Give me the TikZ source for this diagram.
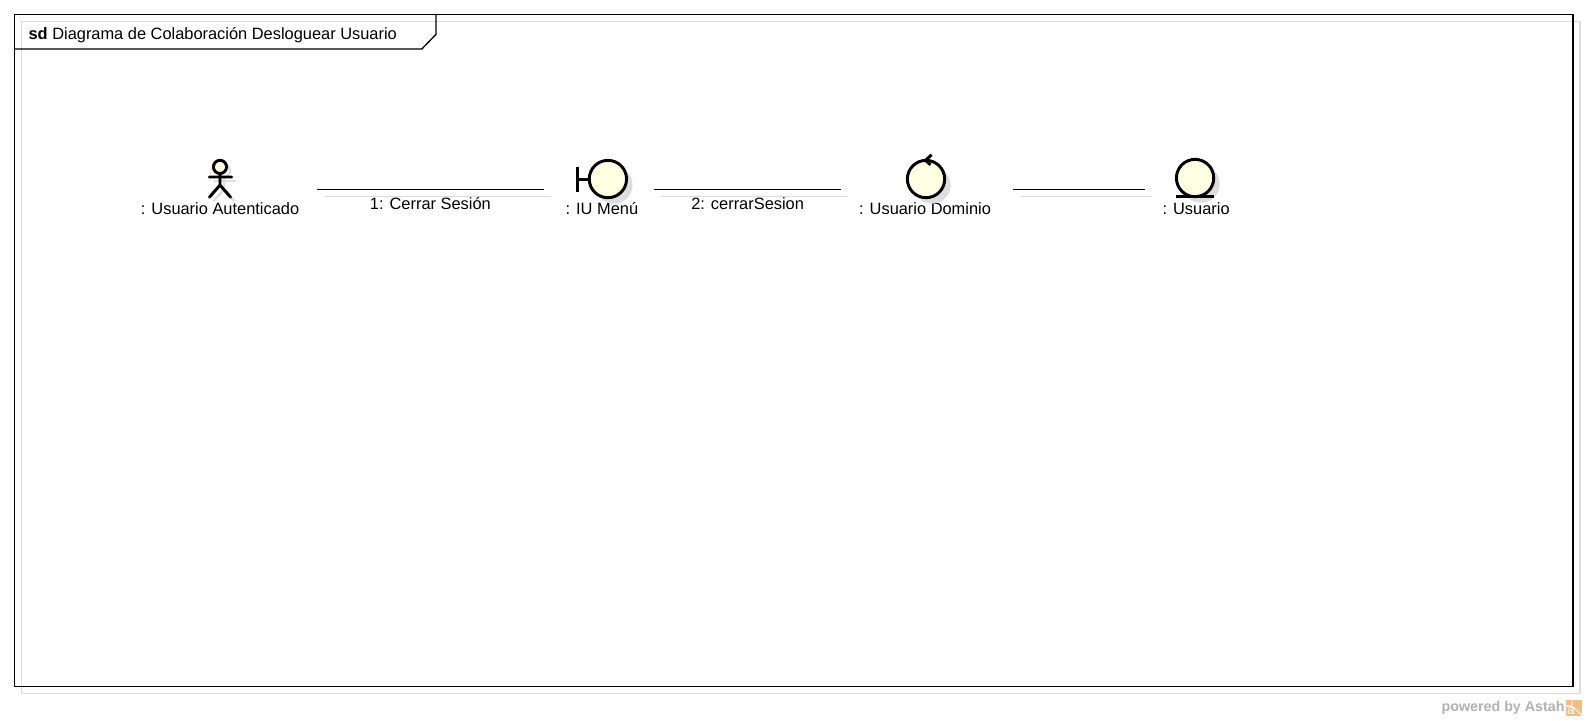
\documentclass[tikz,border=0pt]{standalone}
\usepackage{fontspec}
\setmainfont{Liberation Sans}
\usetikzlibrary{shadows}
\definecolor{shadowgray}{HTML}{DDDDDD}
\definecolor{robustfill}{HTML}{FFFFE3}
\definecolor{logoorange}{HTML}{F6BC84}
\tikzset{every node/.style={align=center}, font=\fontsize{12.3pt}{14pt}\selectfont,
  framebox/.style={line width=1pt},
  frameshadow/.style={draw=shadowgray, line width=0.9pt},
  icon/.style={line width=2.2pt, line cap=round},
  robust/.style={circle, draw, line width=2.2pt, fill=robustfill, minimum size=28pt, inner sep=0pt,
    drop shadow={shadow xshift=4.5pt, shadow yshift=-4.5pt, fill=shadowgray, opacity=1}},
  objname/.style={inner sep=0pt, outer xsep=13.5pt, text height=9pt, text depth=3pt},
  linkname/.style={below=3.5pt, text height=9pt, text depth=3pt, inner ysep=2pt},
  assoc/.style={line width=1pt, preaction={draw=shadowgray, line width=0.8pt, transform canvas={shift={(5.3pt,-5.3pt)}}}}}

\begin{document}
\begin{tikzpicture}[x=0.7586pt, y=-0.7586pt]
  \useasboundingbox (0,0) rectangle (1568,712);
  % frame
  \draw[frameshadow] (21.5,21.5) rectangle (1562,686);
  \draw[framebox] (14.5,14.5) rectangle (1555,679);
  \draw[framebox] (14.5,48.5) -- (417,48.5) -- (431,34) -- (431,14.5);
  \node (title) [anchor=west, inner sep=0pt] at (28,34.5) {\textbf{sd} Diagrama de Colaboración Desloguear Usuario};

  % objects
  \node [objname] (actor) at (217.5,208) {: Usuario Autenticado};
  \node [objname] (menu) at (595,208) {: IU Menú};
  \node [objname] (ctrl) at (914.5,208) {: Usuario Dominio};
  \node [objname] (ent) at (1182.5,208) {: Usuario};

  % actor
  \begin{scope}[shift={(4,4)}, draw=shadowgray, line width=1.6pt]
    \draw (217.5,171) -- (217.5,183) (207,175) -- (229,175) (217.5,183) -- (207,195) (217.5,183) -- (228,195);
    \draw (217.5,165) circle (6);
  \end{scope}
  \draw[icon] (217.5,171) -- (217.5,183) (207,175) -- (229,175) (217.5,183) -- (207,195) (217.5,183) -- (228,195);
  \draw[icon, fill=robustfill] (217.5,165) circle (6.5);

  % boundary, control, entity
  \node [robust] (menuball) at (601,177) {};
  \draw[icon, line cap=butt] (571,165) -- (571,190) (571,177) -- (menuball);
  \node [robust] (ctrlball) at (915.5,177) {};
  \draw[icon, line cap=butt, fill=none] (921,153) -- (915,158.5) -- (920,163);
  \node [robust] (entball) at (1181.5,176) {};
  \draw[icon, line cap=butt] (1163,194) -- (1200,194);

  % links
  \draw[assoc] ([yshift=15.9pt]actor.east) -- node [linkname] {1: Cerrar Sesión} ([xshift=-3pt,yshift=15.9pt]menu.west);
  \draw[assoc] ([xshift=-1.5pt,yshift=15.9pt]menu.east) -- node [linkname] {2: cerrarSesion} ([yshift=15.9pt]ctrl.west);
  \draw[assoc] ([xshift=3pt,yshift=15.9pt]ctrl.east) -- ([yshift=15.9pt]ent.west);

  % logo
  \node (powered) [anchor=east, inner sep=0pt, text=black!30, font=\fontsize{10.7pt}{12pt}\selectfont\bfseries] at (1547,699.5) {powered by Astah};
  \fill[logoorange] (1548,692) rectangle (1564,708);
  \draw[white, line width=0.8pt] (1554,692) -- (1554,698) -- (1548,698) (1554,698) -- (1564,707);
  \node (logo) [text=white, font=\fontsize{10pt}{12pt}\selectfont, inner sep=0pt] at (1553,703) {a};
\end{tikzpicture}
\end{document}
